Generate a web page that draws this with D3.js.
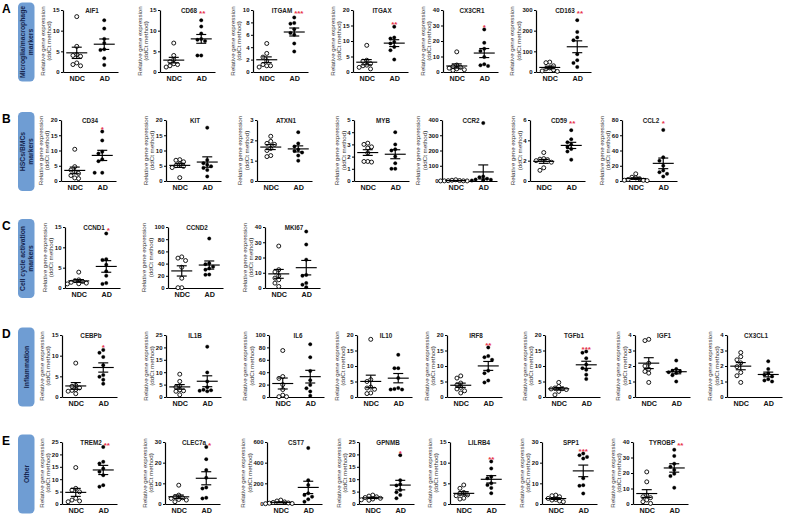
<!DOCTYPE html>
<html>
<head>
<meta charset="utf-8">
<script src="https://cdn.jsdelivr.net/npm/d3@7"></script>
<style>
body { margin: 0; background: #fff; }
svg text { font-family: "Liberation Sans", Arial, sans-serif; }
</style>
</head>
<body>
<svg id="fig" width="785" height="514"></svg>
<script>
// groups on the x axis
const groups = ["NDC", "AD"];

// A - microglia / macrophage markers
const genesA = ["AIF1", "CD68", "ITGAM", "ITGAX", "CX3CR1", "CD163"];
const yMaxA = [15, 15, 10, 20, 40, 300];
const stepA = [5, 5, 2, 5, 10, 100];
const starsA = ["", "**", "***", "**", "*", "**"];
const ndcA = [
  [13.4, 6.2, 4.2, 3.8, 4.0, 2.2, 1.5, 1.8],
  [7.0, 4.0, 3.0, 2.5, 2.0, 1.5, 1.2, 1.8],
  [4.6, 3.0, 2.4, 1.8, 1.2, 1.0, 0.8, 1.0],
  [8.6, 3.8, 3.5, 2.7, 2.0, 1.5, 1.0, 2.2],
  [13, 4.5, 3.5, 3, 2.5, 2, 1.5, 1],
  [45, 48, 30, 20, 15, 10, 5, 3]
];
const adA = [
  [12.5, 10.5, 8, 7, 5.5, 5.3, 3.3, 1.7],
  [12.5, 11, 9.3, 8, 7.5, 7.8, 4, 4],
  [8.8, 7.9, 7.8, 6.9, 6.3, 6.0, 4.6, 3.3],
  [14.6, 11.1, 10.8, 9.7, 9.2, 8.1, 7.0, 4.0],
  [27.5, 18.8, 15, 13.6, 9.7, 5, 4.3, 3.9],
  [251, 194, 167, 154, 86, 57, 44, 24]
];

// B - HSCs/BMCs markers
const genesB = ["CD34", "KIT", "ATXN1", "MYB", "CCR2", "CD59", "CCL2"];
const yMaxB = [20, 20, 3, 5, 400, 6, 80];
const stepB = [5, 5, 1, 1, 100, 2, 20];
const starsB = ["*", "", "", "", "", "**", "*"];
const ndcB = [
  [10.4, 4.7, 3.6, 3.0, 2.5, 1.8, 1.0, 0.8],
  [7.0, 6.8, 6.3, 5.6, 5.0, 4.8, 4.4, 1.1],
  [2.2, 1.95, 1.85, 1.8, 1.6, 1.5, 1.2, 1.25],
  [3.1, 3.0, 2.8, 2.7, 2.3, 1.6, 1.55, 1.6],
  [8, 5, 3, 2, 1, 1, 0.5, 0.5],
  [2.8, 2.2, 2.15, 2.1, 2.0, 1.85, 1.3, 1.05],
  [9.4, 5, 4, 3, 2, 1, 1, 0.5]
];
const adB = [
  [16.2, 13.3, 9.6, 9.0, 7.1, 6.5, 2.7, 2.7],
  [17.5, 6.9, 5.8, 5.3, 4.8, 4.3, 3.6, 1.5],
  [2.4, 1.85, 1.7, 1.55, 1.48, 1.4, 1.25, 1.0],
  [4.0, 3.0, 2.6, 2.5, 2.0, 1.45, 1.0, 1.0],
  [380, 30, 25, 15, 10, 8, 5, 3],
  [5.0, 4.1, 3.8, 3.6, 3.35, 3.15, 2.9, 2.1],
  [67, 31, 26.5, 20, 13.7, 11.5, 9.4, 6]
];

// C - cell cycle activation markers
const genesC = ["CCND1", "CCND2", "MKI67"];
const yMaxC = [15, 100, 40];
const stepC = [5, 20, 10];
const starsC = ["*", "", ""];
const ndcC = [
  [3.9, 2.0, 1.8, 1.6, 1.4, 1.2, 1.05, 1.0],
  [51, 49, 45, 34, 16, 0.5, 0.5],
  [27.5, 12, 10.5, 8, 6.5, 5.4, 3.2, 1]
];
const adC = [
  [13.4, 7.1, 6.9, 5.7, 4.1, 3.0, 1.2, 1.0],
  [81, 40.5, 39, 35, 32, 30, 21.6, 22],
  [37, 28.5, 18.6, 8.6, 8, 3.2, 2.2, 0.5]
];

// D - inflammation
const genesD = ["CEBPb", "IL1B", "IL6", "IL10", "IRF8", "TGFb1", "IGF1", "CX3CL1"];
const yMaxD = [15, 25, 100, 20, 20, 20, 4, 4];
const stepD = [5, 5, 20, 5, 5, 5, 1, 1];
const starsD = ["*", "", "", "", "**", "***", "", ""];
const ndcD = [
  [8.2, 2.8, 2.6, 2.2, 1.8, 1.6, 1.4, 0.8],
  [9.2, 6.3, 4.5, 4, 2.9, 2.5, 2.3, 0.9],
  [75, 33, 30, 20, 12, 3, 0.5, 0.5],
  [18.6, 5.6, 5.0, 3.2, 2.9, 2.5, 1.3, 1.1],
  [6.8, 6.1, 4.5, 3.9, 3.1, 2.6, 2.0, 1.3],
  [4.7, 3.4, 2.9, 2.7, 2.6, 2.4, 1.8, 0.7],
  [3.72, 3.64, 2.18, 2.0, 1.8, 1.65, 1.54, 0.94],
  [2.87, 2.6, 2.4, 2.2, 1.96, 1.58, 1.37, 0.94]
];
const adD = [
  [11.4, 10.7, 9.7, 7.7, 5.3, 4.9, 4.2, 3.2],
  [20.3, 9.9, 6.3, 3.9, 2.9, 2.7, 2.5, 2.3],
  [85, 64, 42, 27, 19.5, 14, 9, 2],
  [13.6, 9.3, 9.3, 6.1, 2.9, 2.6, 2.4, 2.4],
  [16, 13.2, 12.8, 12, 8.5, 7.7, 5.3, 4.7],
  [14.7, 14.3, 12.5, 10.5, 9.3, 8.8, 7.2, 5.8],
  [2.35, 1.8, 1.7, 1.65, 1.6, 1.55, 1.4, 1.0],
  [2.3, 1.8, 1.54, 1.43, 1.33, 1.15, 1.07, 1.0]
];

// E - other
const genesE = ["TREM2", "CLEC7a", "CST7", "GPNMB", "LILRB4", "SPP1", "TYROBP"];
const yMaxE = [25, 30, 600, 25, 15, 30, 40];
const stepE = [5, 10, 200, 5, 5, 10, 10];
const starsE = ["**", "*", "", "*", "**", "***", "**"];
const ndcE = [
  [14.7, 6.3, 5.6, 4.9, 2.3, 1.6, 1.2, 0.9],
  [9.1, 4.3, 3.5, 3.0, 2.7, 2.2, 1.9, 1.1],
  [38, 29, 20, 15, 10, 8, 5, 3],
  [3.6, 3.2, 2.9, 2.6, 2.3, 2.0, 1.7, 1.5],
  [4.6, 3.8, 2.8, 2.6, 2.2, 2.0, 1.4, 1.2],
  [4.3, 4.0, 3.5, 2.7, 2.2, 1.9, 1.4, 1.1],
  [20.7, 14.3, 5.7, 4.7, 4.1, 2.6, 1.5, 0.4]
];
const adE = [
  [23, 17, 16.3, 14.3, 13, 11.6, 7.6, 7],
  [27.6, 21.7, 16.4, 12.7, 8, 7.5, 3.0, 2.7],
  [542, 231, 183, 103, 87, 71, 45, 22],
  [19.7, 9.6, 8, 7.5, 5.6, 4.7, 3.6, 2.3],
  [10.3, 8.6, 6.6, 6.2, 5.0, 4.6, 3.9, 2.6],
  [24.4, 23.6, 22.8, 22, 12.4, 9.1, 8.8, 5.1],
  [35, 31, 26, 24, 22, 19.5, 18, 10.5]
];

// layout: y-axis x position of each panel, and vertical extent of each row
const rows = [
  { letter: "A", box: ["Microglia/macrophage", "markers"], top: 10, zero: 72,
    genes: genesA, yMax: yMaxA, step: stepA, stars: starsA, ndc: ndcA, ad: adA,
    axisX: [63, 160, 253, 353, 443, 536] },
  { letter: "B", box: ["HSCs/BMCs", "markers"], top: 120, zero: 181,
    genes: genesB, yMax: yMaxB, step: stepB, stars: starsB, ndc: ndcB, ad: adB,
    axisX: [61, 166, 257, 354, 442, 530, 622] },
  { letter: "C", box: ["Cell cycle activation", "markers"], top: 227, zero: 288,
    genes: genesC, yMax: yMaxC, step: stepC, stars: starsC, ndc: ndcC, ad: adC,
    axisX: [65, 168, 265] },
  { letter: "D", box: ["Inflammation"], top: 335, zero: 397,
    genes: genesD, yMax: yMaxD, step: stepD, stars: starsD, ndc: ndcD, ad: adD,
    axisX: [62, 166, 269, 357, 447, 545, 635, 727] },
  { letter: "E", box: ["Other"], top: 442, zero: 504,
    genes: genesE, yMax: yMaxE, step: stepE, stars: starsE, ndc: ndcE, ad: adE,
    axisX: [62, 165, 267, 359, 450, 542, 633] }
];

const svg = d3.select("#fig");
const axisLen = 55;

// simple deterministic beeswarm so the dots do not sit on top of each other
function swarm(vals, cx, y) {
  const placed = [];
  const offs = [0, -3.8, 3.8, -7.6, 7.6, -11.4, 11.4, -15.2, 15.2];
  vals.map((v, i) => i).sort((a, b) => vals[b] - vals[a]).forEach(i => {
    const py = y(vals[i]);
    let px = cx + offs[offs.length - 1];
    for (const dx of offs) {
      if (placed.every(p => Math.hypot(p.x - (cx + dx), p.y - py) >= 3.8)) { px = cx + dx; break; }
    }
    placed.push({ x: px, y: py });
  });
  return placed;
}

function drawPanel(row, i) {
  const ax = row.axisX[i];
  const yMax = row.yMax[i];
  const g = svg.append("g");

  const y = d3.scaleLinear().domain([0, yMax]).range([row.zero, row.top]);
  const x = d3.scalePoint().domain(groups).range([ax, ax + axisLen]).padding(0.5);

  // y axis
  const yAx = g.append("g")
    .attr("transform", `translate(${ax},0)`)
    .call(d3.axisLeft(y)
      .tickValues(d3.range(0, yMax + row.step[i] * 0.01, row.step[i]))
      .tickFormat(d3.format("d"))
      .tickSize(2).tickSizeOuter(0).tickPadding(1.5));
  yAx.select(".domain").attr("stroke", "#000").attr("stroke-width", 1.2);
  yAx.selectAll(".tick line").attr("stroke", "#000").attr("stroke-width", 1);
  yAx.selectAll(".tick text").attr("font-size", 6).attr("font-weight", "bold").attr("fill", "#111");

  let tw = 0;
  yAx.selectAll(".tick text").each(function () { tw = Math.max(tw, this.getComputedTextLength()); });

  // x axis
  const xAx = g.append("g")
    .attr("transform", `translate(0,${row.zero})`)
    .call(d3.axisBottom(x).tickSize(0).tickSizeOuter(0).tickPadding(4));
  xAx.select(".domain").attr("stroke", "#000").attr("stroke-width", 1.2);
  xAx.selectAll(".tick text").attr("font-size", 7.2).attr("font-weight", "bold").attr("fill", "#111");

  // y axis title
  const mid = (row.top + row.zero) / 2;
  const lx = ax - tw - 5;
  const yl = g.append("text")
    .attr("transform", `translate(${lx},${mid}) rotate(-90)`)
    .attr("text-anchor", "middle").attr("font-size", 6.2).attr("fill", "#333");
  yl.append("tspan").attr("x", 0).attr("y", -6.5).text("Relative gene expression");
  yl.append("tspan").attr("x", 0).attr("y", 0).text("(ddCt method)");

  // panel title
  const title = g.append("text")
    .attr("x", ax + 29).attr("y", row.top + 2.5)
    .attr("text-anchor", "middle").attr("font-size", 6.3).attr("font-weight", "bold").attr("fill", "#222")
    .text(row.genes[i]);
  const titleEnd = ax + 29 + title.node().getComputedTextLength() / 2;

  // dots, mean and SEM per group
  [row.ndc[i], row.ad[i]].forEach((vals, k) => {
    const cx = x(groups[k]);
    const m = d3.mean(vals);
    const sem = d3.deviation(vals) / Math.sqrt(vals.length);

    const pts = swarm(vals, cx, y);
    g.selectAll(null).data(pts).join("circle")
      .attr("cx", d => d.x).attr("cy", d => d.y)
      .attr("r", k === 0 ? 2.0 : 1.75)
      .attr("fill", k === 0 ? "#fff" : "#000")
      .attr("stroke", "#000").attr("stroke-width", k === 0 ? 0.9 : 0.3);

    const eb = g.append("g").attr("stroke", "#000").attr("stroke-width", 1.15).attr("fill", "none");
    eb.append("line").attr("x1", cx - 10.5).attr("x2", cx + 10.5).attr("y1", y(m)).attr("y2", y(m));
    eb.append("line").attr("x1", cx).attr("x2", cx).attr("y1", y(m - sem)).attr("y2", y(m + sem));
    eb.append("line").attr("x1", cx - 5).attr("x2", cx + 5).attr("y1", y(m + sem)).attr("y2", y(m + sem));
    eb.append("line").attr("x1", cx - 5).attr("x2", cx + 5).attr("y1", y(m - sem)).attr("y2", y(m - sem));
  });

  // significance stars over the AD group; when that would hit the title, set them beside it
  if (row.stars[i]) {
    const star = g.append("text")
      .attr("text-anchor", "middle").attr("font-size", 8).attr("font-weight", "bold")
      .attr("fill", "#e8304a")
      .text(row.stars[i]);
    const sw = star.node().getComputedTextLength();
    const yStar = y(d3.max(row.ad[i])) - 5;
    if (yStar < row.top + 6) {
      star.attr("x", Math.max(titleEnd + 2 + sw / 2, x("AD"))).attr("y", row.top + 6.3);
    } else {
      star.attr("x", x("AD")).attr("y", yStar + 5.5);
    }
  }
}

rows.forEach(row => {
  const mid = (row.top + row.zero) / 2 + 1;

  svg.append("text")
    .attr("x", 2).attr("y", row.top + 2.5)
    .attr("font-size", 12).attr("font-weight", "bold").attr("fill", "#000")
    .text(row.letter);

  svg.append("rect")
    .attr("x", 18).attr("y", mid - 39.5).attr("width", 16.5).attr("height", 79)
    .attr("rx", 4.5).attr("fill", "#6f9dd3");

  const bx = row.box.length === 2 ? [25.3, 32.6] : [29];
  row.box.forEach((t, j) => {
    svg.append("text")
      .attr("transform", `translate(${bx[j]},${mid}) rotate(-90)`)
      .attr("text-anchor", "middle").attr("font-size", 6.8).attr("font-weight", "bold")
      .attr("fill", "#16264f")
      .text(t);
  });

  row.genes.forEach((gene, i) => drawPanel(row, i));
});
</script>
</body>
</html>
